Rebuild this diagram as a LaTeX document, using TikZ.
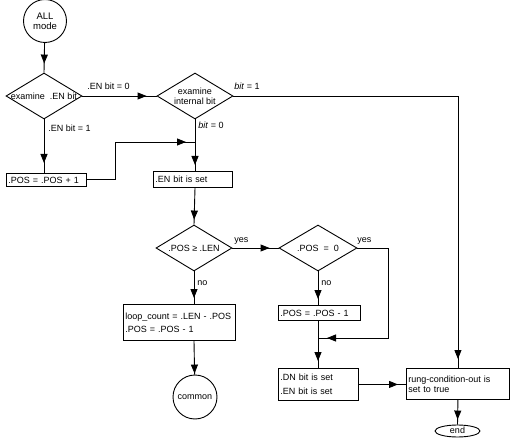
\documentclass[tikz,border=0pt]{standalone}
\usepackage{fontspec}
\setmainfont{Liberation Sans}
\usetikzlibrary{shapes.geometric, arrows.meta, decorations.markings}
\begin{document}
\begin{tikzpicture}[x=1pt, y=-1pt, line width=0.9pt,
  font=\fontsize{9}{10}\selectfont,
  flowarr/.style={postaction={decorate}, decoration={markings,
      mark=at position -#1 with {\arrow{Triangle[length=9pt,width=7pt]}}}},
  flowarr/.default=7pt,
  dia/.style={diamond, draw, inner sep=0pt, minimum width=76pt, minimum height=46pt},
  dtext/.style={inner sep=0pt, align=center},
  box/.style={draw, rectangle, inner xsep=2pt, inner ysep=0pt, align=left, anchor=north west},
  lbl/.style={inner sep=0pt, anchor=west},
  term/.style={circle, draw, inner sep=0pt, minimum size=43pt, align=center}
]
\useasboundingbox (0,0) rectangle (515,444);

% nodes
\node[term, font=\fontsize{9.5}{10}\selectfont] (all) at (45,21) {ALL\\mode};
\node[dia] (d1) at (44,96) {};
\node[dtext] (t1) at (d1) {examine \ .EN bit};
\node[dia] (d2) at (195,96) {};
\node[dtext] (t2) at (d2) {examine\\internal bit};
\node[box, minimum width=80pt, minimum height=13pt, text width=76pt] (b1) at (6,173) {.POS = .POS + 1};
\node[box, minimum width=79pt, minimum height=16pt, text width=75pt] (b2) at (153,171) {.EN bit is set};
\node[dia] (d3) at (194,248) {};
\node[dtext] (t3) at (d3) {.POS ≥ .LEN};
\node[dia, minimum width=78pt] (d4) at (318,248) {};
\node[dtext] (t4) at (d4) {.POS \ = \ 0};
\node[box, minimum width=112pt, minimum height=36pt, text width=108pt] (b3) at (123,304)
  {loop\_count = .LEN - .POS\\[3pt].POS = .POS - 1};
\node[box, minimum width=82pt, minimum height=15pt, text width=78pt] (b4) at (278,305) {.POS = .POS - 1};
\node[box, minimum width=80pt, minimum height=32pt, text width=76pt] (b5) at (278,368)
  {.DN bit is set\\[4pt].EN bit is set};
\node[box, minimum width=103pt, minimum height=31pt, text width=99pt] (b6) at (406,368)
  {rung-condition-out is\\set to true};
\node[term, minimum size=44pt] (common) at (195,397) {common};
\node[ellipse, draw, inner sep=0pt, minimum width=45pt, minimum height=12pt,
  text height=5.5pt, text depth=0pt] (end) at (457.5,431) {end};

\coordinate (m1) at (195,142);
\coordinate (m2) at (318,338);

% connectors
\draw[flowarr=9pt] (all) -- (d1.north);
\draw[flowarr=10pt] (d1.east) -- (d2.west);
\draw[flowarr=10pt] (d1.south) -- (d1.south |- b1.north);
\draw[flowarr=9pt] (b1.east) -- ++(29,0) |- (m1);
\draw[flowarr=6pt] (d2.south) -- (d2.south |- b2.north);
\draw[flowarr=9pt] (d2.east) -| (b6.north);
\draw[flowarr=5pt] (b2.south -| d2.south) -- (d3.north);
\draw[flowarr=9pt] (d3.east) -- (d4.west);
\draw[flowarr=6pt] (d3.south) -- (d3.south |- b3.north);
\draw[flowarr=1pt] (b3.south -| d3.south) -- (common);
\draw[flowarr=6pt] (d4.south) -- (d4.south |- b4.north);
\draw[flowarr=7pt] (b4.south -| d4.south) -- (b5.north -| d4.south);
\draw[flowarr=9pt] (d4.east) -- ++(31,0) |- (m2);
\draw[flowarr=8pt] (b5.east) -- (b5.east -| b6.west);
\draw[flowarr=5pt] (b6.south) -- (end.north);

% labels
\node[lbl] (l1) at (87,86) {.EN bit = 0};
\node[lbl] (l2) at (48,128) {.EN bit = 1};
\node[lbl] (l3) at (234,86) {\textit{bit} = 1};
\node[lbl] (l4) at (198,125) {\textit{bit} = 0};
\node[lbl] (l5) at (234,241) {yes};
\node[lbl] (l6) at (197,283) {no};
\node[lbl] (l7) at (357,241) {yes};
\node[lbl] (l8) at (321,283) {no};
\end{tikzpicture}
\end{document}
